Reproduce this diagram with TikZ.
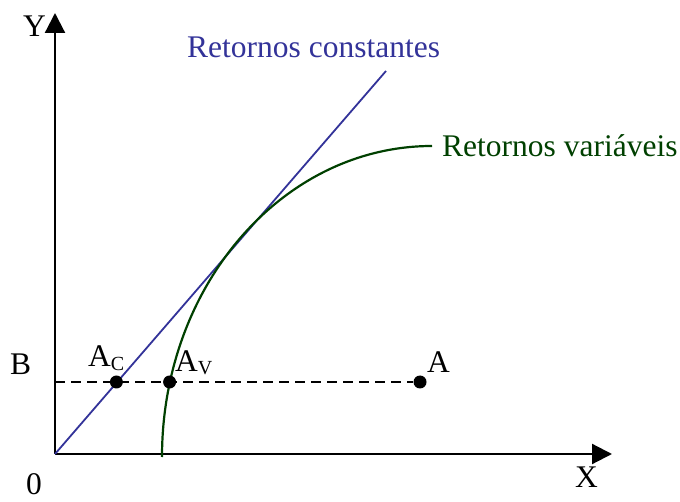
\documentclass[tikz,border=0pt]{standalone}
\usepackage{fontspec}
\setmainfont{Liberation Serif}
\usetikzlibrary{arrows.meta}
\definecolor{cblue}{RGB}{51,51,153}
\definecolor{cgreen}{RGB}{0,64,0}
\newcommand{\bigfont}{\fontsize{31.5}{36}\selectfont}
\newcommand{\subfont}{\fontsize{20}{22}\selectfont}
\tikzset{
  axis/.style={line width=2.2pt,-{Triangle[length=20pt,width=20pt]}},
  lbl/.style={inner sep=0pt,anchor=base west,font=\bigfont},
  dotpt/.style={circle,fill=black,inner sep=0pt,minimum size=13pt},
  constline/.style={cblue,line width=1.8pt},
  varline/.style={cgreen,line width=2.2pt},
  guide/.style={line width=2pt,dash pattern=on 10pt off 6pt},
}
\begin{document}
\begin{tikzpicture}[x=1pt,y=-1pt]
\useasboundingbox (0,0) rectangle (680,502);
% coordinates
\coordinate (O) at (55,454);
\coordinate (Ytip) at (55,13);
\coordinate (Xtip) at (612,454);
\coordinate (Bstart) at (55,382);
\coordinate (Cend) at (386,71);
\coordinate (Vstart) at (162,457);
\coordinate (Vend) at (432,146);
% axes
\draw[axis] (O) -- (Ytip);
\draw[axis] (O) -- (Xtip);
% curves
\draw[constline] (O) -- (Cend);
\draw[varline] (Vstart) .. controls (162,285.2) and (282.9,146) .. (Vend);
% dashed
\node[dotpt] (A) at (420,382) {};
\node[dotpt] (AC) at (116.4,382) {};
\node[dotpt] (AV) at (169.6,382) {};
\draw[guide] (Bstart) -- (A);
% labels
\node[lbl] (Ylab) at (23,37) {Y};
\node[lbl] (Xlab) at (575,487) {X};
\node[lbl] (Blab) at (10,374) {B};
\node[lbl] (Olab) at (26,494) {0};
\node[lbl] (Alab) at (427,373) {A};
\node[lbl] (AClab) at (88,367) {A\raisebox{-4pt}{\subfont C}};
\node[lbl] (AVlab) at (175,372) {A\raisebox{-3pt}{\subfont V}};
\node[lbl,text=cblue] (Clab) at (187,58) {Retornos constantes};
\node[lbl,text=cgreen] (Vlab) at (442,157) {Retornos variáveis};
\end{tikzpicture}
\end{document}
